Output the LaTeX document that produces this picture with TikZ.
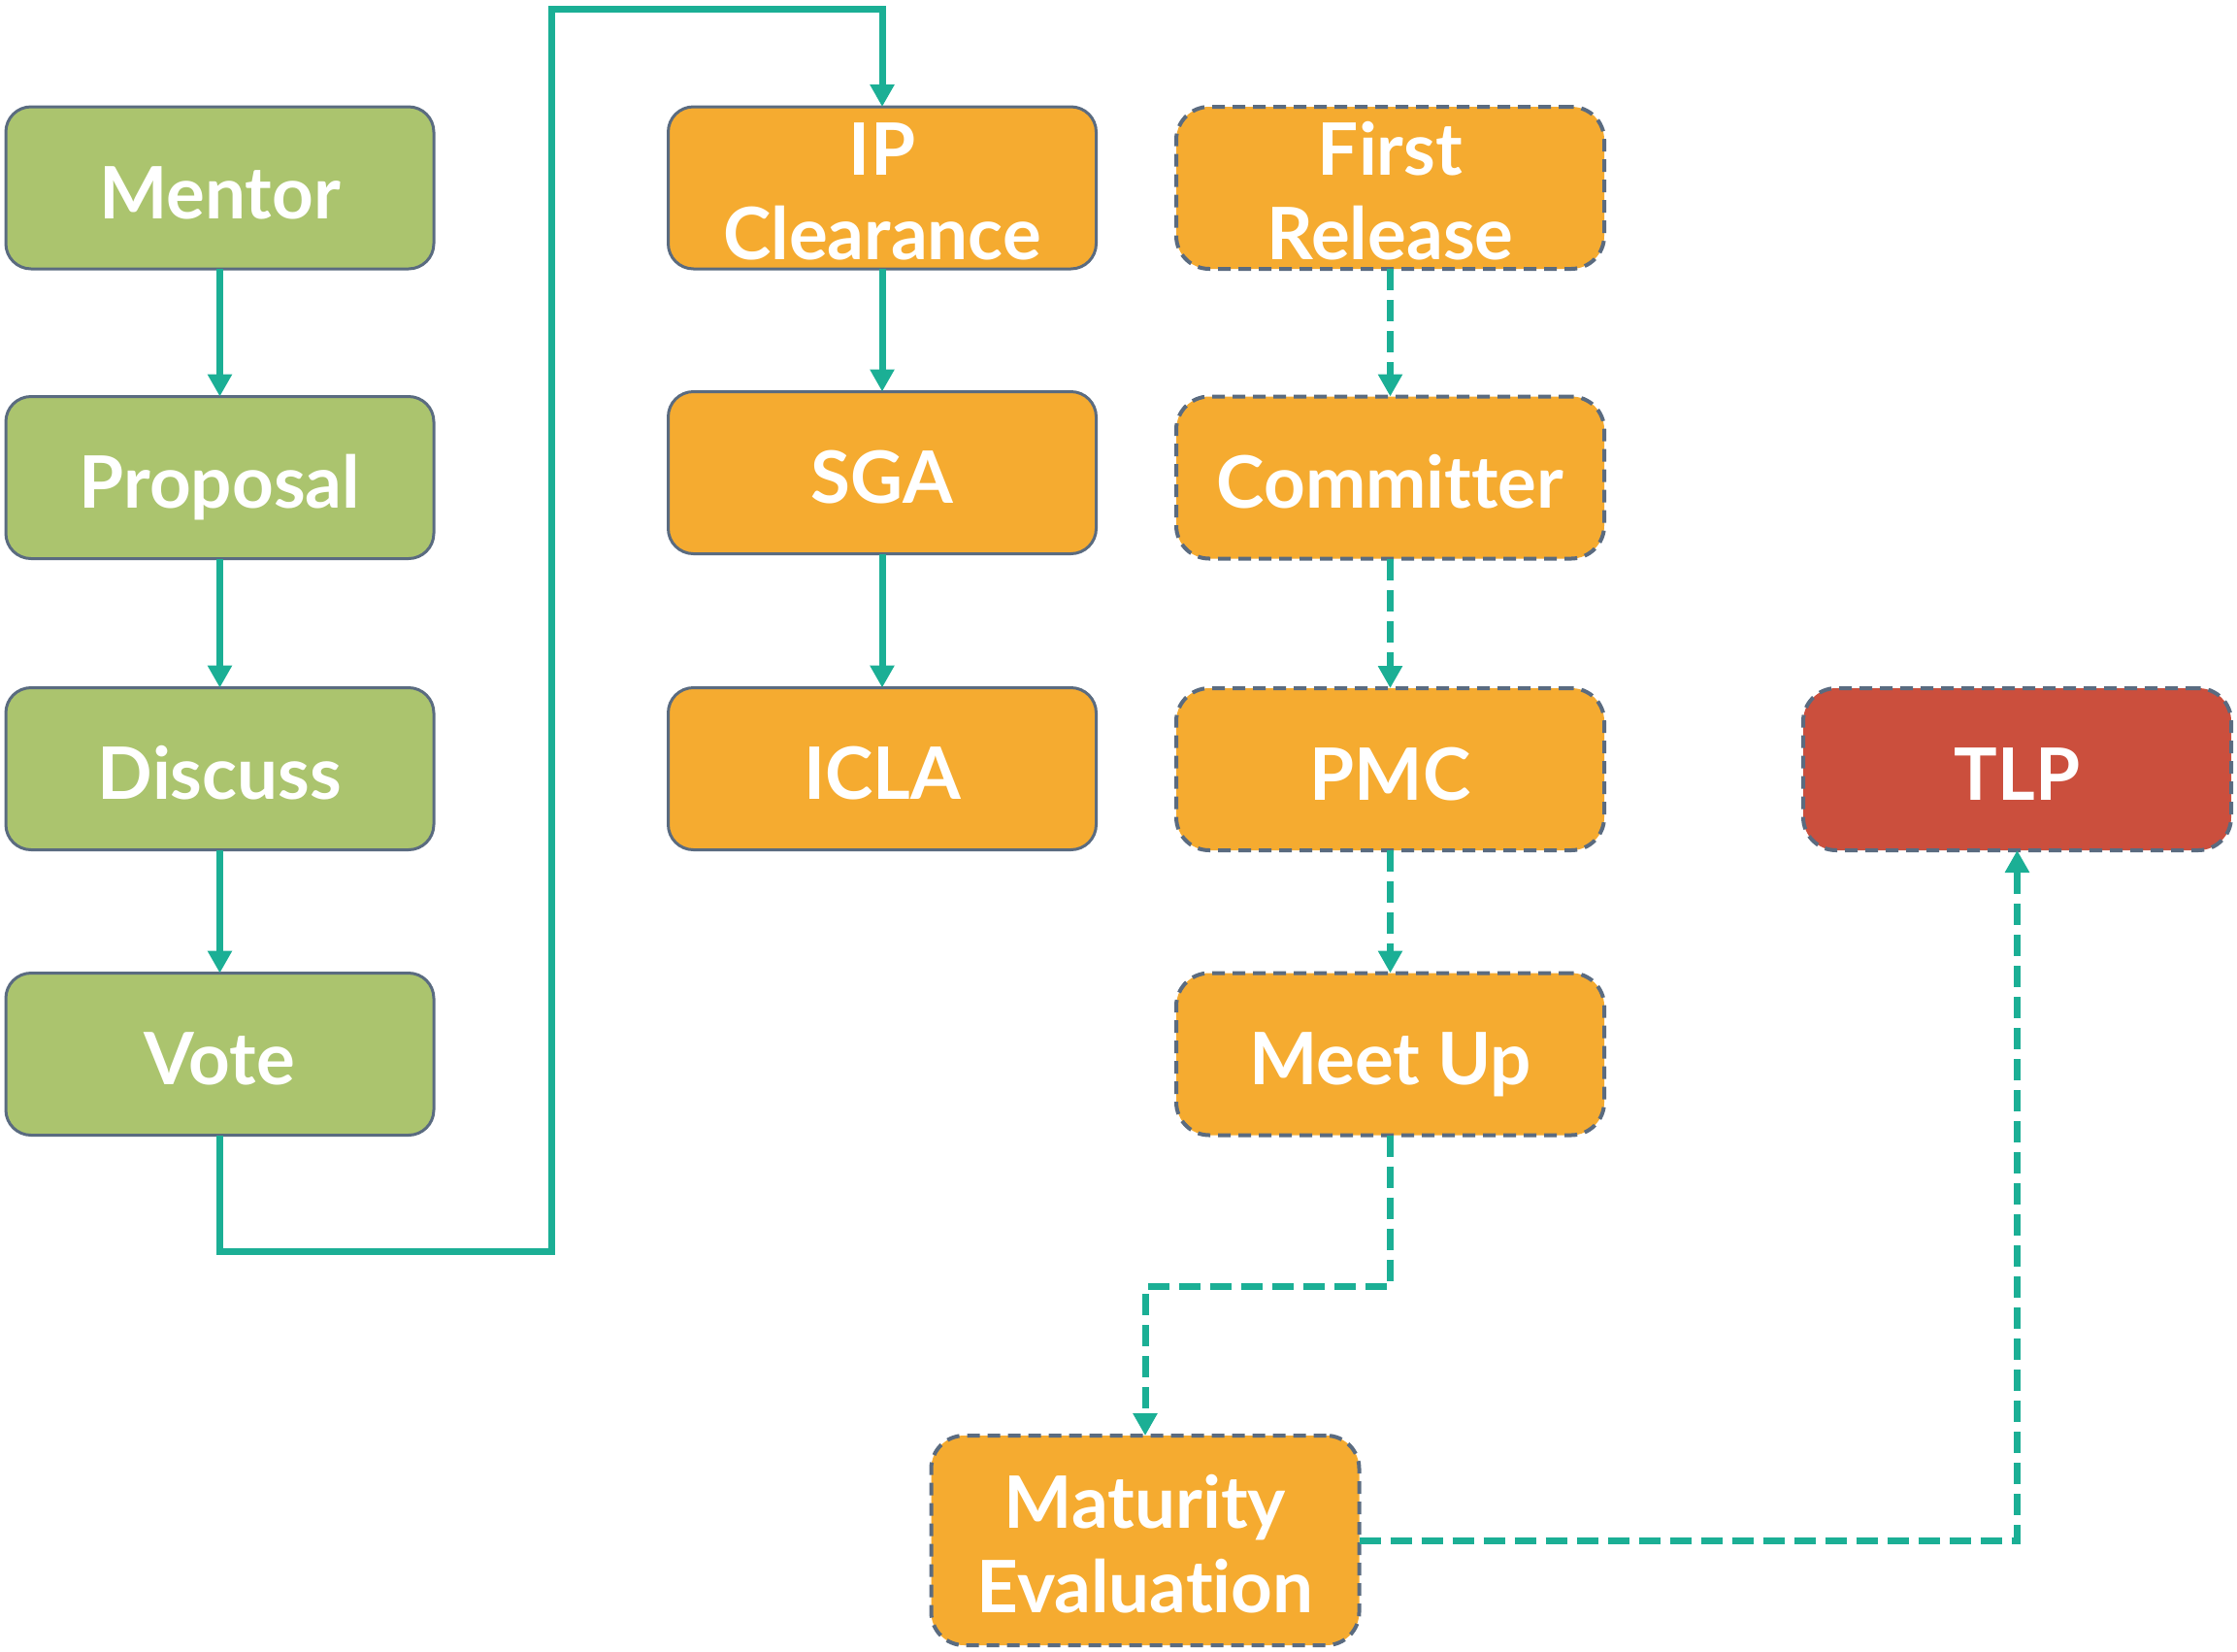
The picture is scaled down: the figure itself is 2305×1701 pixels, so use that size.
\documentclass[tikz,border=0pt]{standalone}
\usepackage{fontspec}
\setmainfont{Lato}[Ligatures={NoCommon}]
\usetikzlibrary{arrows.meta}
\definecolor{gfill}{HTML}{ABC46E}
\definecolor{ofill}{HTML}{F5AB30}
\definecolor{rfill}{HTML}{CB4F3D}
\definecolor{bord}{HTML}{5A6B80}
\definecolor{myteal}{HTML}{1BAF95}
\begin{document}
\begin{tikzpicture}[x=1pt,y=-1pt,
 box/.style={rounded corners=26pt, minimum width=441pt, minimum height=167pt, inner sep=0pt, outer sep=0pt, draw=bord, line width=3pt},
 dashbox/.style={box, line width=4pt, dash pattern=on 13pt off 8pt, rounded corners=34pt},
 lbl/.style={text=white, font=\fontsize{74.5}{87}\selectfont\bfseries, align=center, anchor=base, inner sep=0pt},
 conn/.style={draw=myteal, line width=7pt, -{Triangle[length=23pt,width=24pt]}},
 dconn/.style={conn, dash pattern=on 22pt off 10pt},
]
\useasboundingbox (0,0) rectangle (2305,1701);
% green column
\node[box, fill=gfill] (mentor) at (226.5,193.5) {};
\node[box, fill=gfill] (proposal) at (226.5,492) {};
\node[box, fill=gfill] (discuss) at (226.5,792) {};
\node[box, fill=gfill] (vote) at (226.5,1086) {};
% orange column
\node[box, fill=ofill] (ip) at (909,193.5) {};
\node[box, fill=ofill] (sga) at (909,487) {};
\node[box, fill=ofill] (icla) at (909,792) {};
% dashed column
\node[dashbox, fill=ofill] (first) at (1432.5,193.5) {};
\node[dashbox, fill=ofill] (committer) at (1432.5,492) {};
\node[dashbox, fill=ofill] (pmc) at (1432.5,792.5) {};
\node[dashbox, fill=ofill] (meet) at (1432.5,1086) {};
\node[dashbox, fill=rfill] (tlp) at (2078.5,792.5) {};
\node[dashbox, fill=ofill, minimum height=216pt] (mat) at (1180,1587) {};
% labels
\node[lbl] (mentor-t) at ([yshift=-31.5pt]mentor.center) {Mentor};
\node[lbl] (proposal-t) at ([yshift=-31.5pt]proposal.center) {Proposal};
\node[lbl] (discuss-t) at ([yshift=-31.5pt]discuss.center) {Discuss};
\node[lbl] (vote-t) at ([yshift=-31.5pt]vote.center) {Vote};
\node[lbl] (ip-t) at ([yshift=-73.5pt]ip.center) {IP\\Clearance};
\node[lbl] (sga-t) at ([yshift=-31.5pt]sga.center) {SGA};
\node[lbl] (icla-t) at ([yshift=-31.5pt]icla.center) {ICLA};
\node[lbl] (first-t) at ([yshift=-73.5pt]first.center) {First\\Release};
\node[lbl] (committer-t) at ([yshift=-31.5pt]committer.center) {Committer};
\node[lbl] (pmc-t) at ([yshift=-31.5pt]pmc.center) {PMC};
\node[lbl] (meet-t) at ([yshift=-31.5pt]meet.center) {Meet Up};
\node[lbl] (tlp-t) at ([yshift=-31.5pt]tlp.center) {TLP};
\node[lbl] (mat-t) at ([yshift=-74pt]mat.center) {Maturity\\Evaluation};
% connectors
\coordinate (c1) at (568,1289);
\coordinate (c2) at (568,9);
\draw[conn] (mentor) -- (proposal);
\draw[conn] (proposal) -- (discuss);
\draw[conn] (discuss) -- (vote);
\draw[conn] (vote.south) |- (c1) -- (c2) -| (ip.north);
\draw[conn] (ip) -- (sga);
\draw[conn] (sga) -- (icla);
\draw[dconn] (first) -- (committer);
\draw[dconn] (committer) -- (pmc);
\draw[dconn] (pmc) -- (meet);
\draw[dconn] (meet.south) -- ++(0,156) -| (mat.north);
\draw[dconn] (mat.east) -| (tlp.south);
\end{tikzpicture}
\end{document}
